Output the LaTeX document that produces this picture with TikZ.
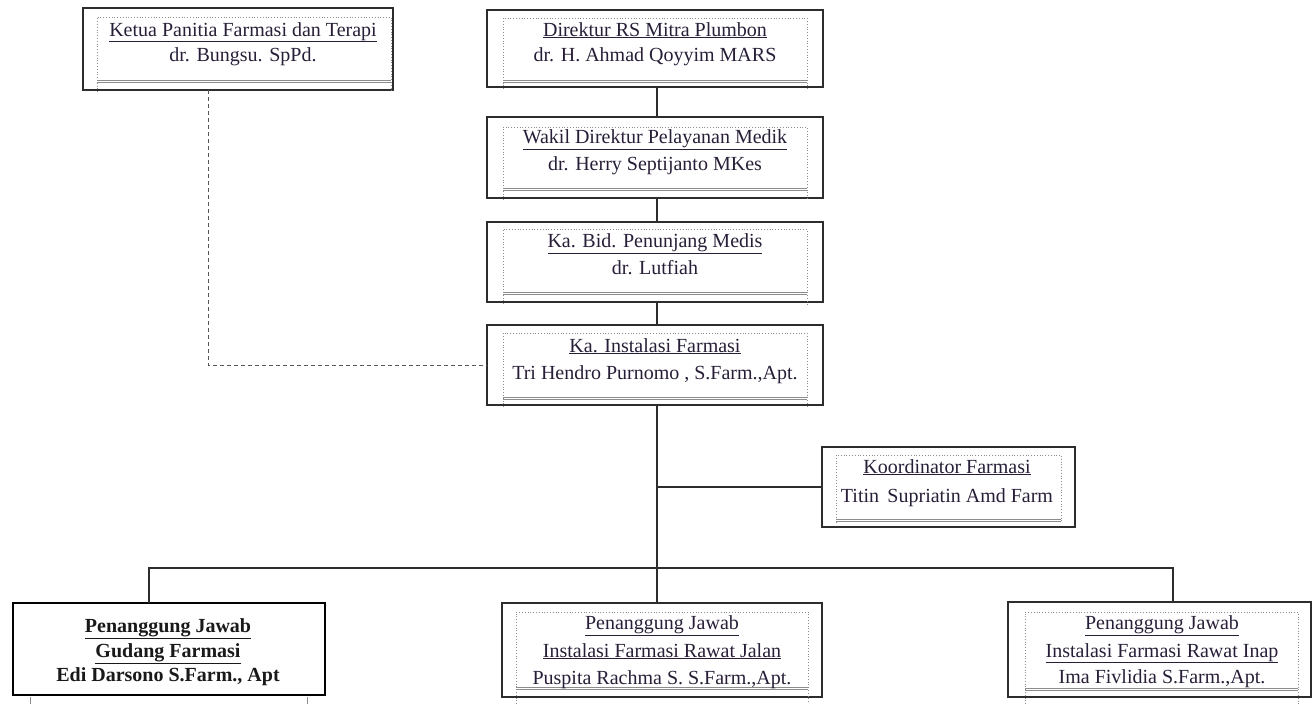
\documentclass[tikz,border=0pt]{standalone}
\usepackage{fontspec}
\setmainfont{Liberation Serif}
\definecolor{linec}{RGB}{45,45,45}
\definecolor{txtc}{RGB}{40,30,55}
\definecolor{dotc}{RGB}{140,140,140}
\begin{document}
\begin{tikzpicture}[x=1pt,y=-1pt,
  obox/.style={draw=linec,line width=1.4pt,rectangle,inner sep=0pt,outer sep=0pt},
  gbox/.style={draw=black,line width=2.2pt,rectangle,inner sep=0pt,outer sep=0pt},
  tx/.style={font=\fontsize{20}{24}\selectfont,text=txtc,inner sep=0pt,anchor=base},
  txb/.style={tx,font=\fontsize{20}{24}\selectfont\bfseries,text=black!90},
  con/.style={draw=linec,line width=1.3pt},
  dcon/.style={draw=linec!80,line width=1pt,dash pattern=on 4pt off 3pt},
  idot/.style={draw=dotc,line width=0.8pt,dotted},
  iline/.style={draw=dotc,line width=0.8pt}]
\useasboundingbox (0,0) rectangle (1312,704);
% outer boxes
\node[obox,minimum width=310pt,minimum height=82pt] (b1) at (238,49) {};
\node[obox,minimum width=336pt,minimum height=77pt] (b2) at (655,48.5) {};
\node[obox,minimum width=336pt,minimum height=81pt] (b3) at (655,157.5) {};
\node[obox,minimum width=336pt,minimum height=80pt] (b4) at (655,262) {};
\node[obox,minimum width=336pt,minimum height=80pt] (b5) at (655,365) {};
\node[obox,minimum width=253pt,minimum height=80pt] (b6) at (948.5,487) {};
\node[gbox,minimum width=312pt,minimum height=92pt] (b7) at (169,649) {};
\node[obox,minimum width=320pt,minimum height=94pt] (b8) at (662,650) {};
\node[obox,minimum width=303pt,minimum height=95pt] (b9) at (1159.5,649.5) {};
% inner dotted frames
\draw[idot] (97,92) -- (97,17) -- (391,17) -- (391,92);
\draw[iline] (97,80) -- (391,80); \draw[iline] (97,82.5) -- (391,82.5);
\draw[idot] (503,89) -- (503,18) -- (807,18) -- (807,89);
\draw[iline] (503,80) -- (807,80); \draw[iline] (503,82.5) -- (807,82.5);
\draw[idot] (503,200) -- (503,127) -- (807,127) -- (807,200);
\draw[iline] (503,188) -- (807,188); \draw[iline] (503,190.5) -- (807,190.5);
\draw[idot] (503,304) -- (503,229) -- (807,229) -- (807,304);
\draw[iline] (503,292) -- (807,292); \draw[iline] (503,294.5) -- (807,294.5);
\draw[idot] (503,407) -- (503,333) -- (807,333) -- (807,407);
\draw[iline] (503,397) -- (807,397); \draw[iline] (503,399.5) -- (807,399.5);
\draw[idot] (836,523) -- (836,455) -- (1061,455) -- (1061,523);
\draw[iline] (836,519) -- (1061,519); \draw[iline] (836,521.5) -- (1061,521.5);
\draw[idot] (516,704) -- (516,612) -- (808,612) -- (808,704);
\draw[iline] (516,687) -- (808,687); \draw[iline] (516,689.5) -- (808,689.5);
\draw[idot] (1025,704) -- (1025,612) -- (1298,612) -- (1298,704);
\draw[iline] (1025,688) -- (1298,688); \draw[iline] (1025,690.5) -- (1298,690.5);
\draw[iline] (30,697) -- (30,704); \draw[iline] (307,697) -- (307,704);
% texts
\node[tx] (t1a) at (243,36) {\underline{Ketua Panitia Farmasi dan Terapi}};
\node[tx] (t1b) at (243,61) {dr. Bungsu. SpPd.};
\node[tx] (t2a) at (655,36) {\underline{Direktur RS Mitra Plumbon}};
\node[tx] (t2b) at (655,61) {dr. H. Ahmad Qoyyim MARS};
\node[tx] (t3a) at (655,143) {\underline{Wakil Direktur Pelayanan Medik}};
\node[tx] (t3b) at (655,170) {dr. Herry Septijanto MKes};
\node[tx] (t4a) at (655,247) {\underline{Ka. Bid. Penunjang Medis}};
\node[tx] (t4b) at (655,274) {dr. Lutfiah};
\node[tx] (t5a) at (655,352) {\underline{Ka. Instalasi Farmasi}};
\node[tx] (t5b) at (655,379) {Tri Hendro Purnomo , S.Farm.,Apt.};
\node[tx] (t6a) at (947,473) {\underline{Koordinator Farmasi}};
\node[tx] (t6b) at (947,502) {Titin\, Supriatin Amd Farm};
\node[txb] (t7a) at (168,632) {\underline{Penanggung Jawab}};
\node[txb] (t7b) at (168,657) {\underline{Gudang Farmasi}};
\node[txb] (t7c) at (168,681) {Edi Darsono S.Farm., Apt};
\node[tx] (t8a) at (662,629) {\underline{Penanggung Jawab}};
\node[tx] (t8b) at (662,657) {\underline{Instalasi Farmasi Rawat Jalan}};
\node[tx] (t8c) at (662,684) {Puspita Rachma S. S.Farm.,Apt.};
\node[tx] (t9a) at (1162,629) {\underline{Penanggung Jawab}};
\node[tx] (t9b) at (1162,657) {\underline{Instalasi Farmasi Rawat Inap}};
\node[tx] (t9c) at (1162,683) {Ima Fivlidia S.Farm.,Apt.};
% connectors
\coordinate (bus) at (657,568);
\coordinate (kb) at (657,487);
\draw[con] ([xshift=2pt]b2.south) -- ([xshift=2pt]b3.north);
\draw[con] ([xshift=2pt]b3.south) -- ([xshift=2pt]b4.north);
\draw[con] ([xshift=2pt]b4.south) -- ([xshift=2pt]b5.north);
\draw[con] ([xshift=2pt]b5.south) -- (bus);
\draw[con] (kb) -- (b6.west);
\draw[con] ([xshift=-20pt]b7.north) |- (bus);
\draw[con] (bus) -| ([xshift=13.5pt]b9.north);
\draw[con] (bus) -- ([xshift=-5pt]b8.north);
\draw[dcon] ([xshift=-30pt]b1.south) |- (b5.west);
\end{tikzpicture}
\end{document}
